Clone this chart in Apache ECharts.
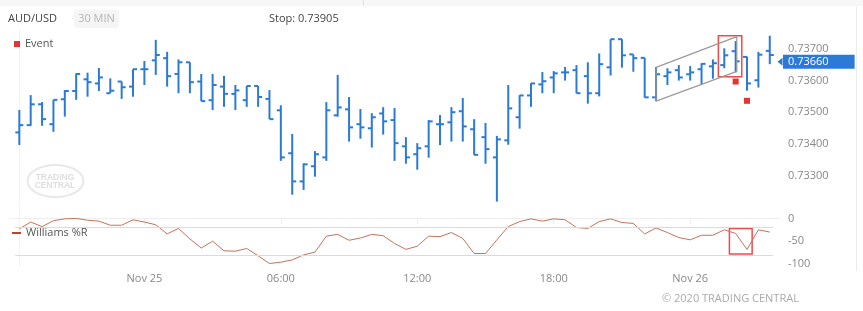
<!DOCTYPE html>
<html><head><meta charset="utf-8">
<script src="https://cdn.jsdelivr.net/npm/echarts@6/dist/echarts.min.js"></script>
<style>html,body{margin:0;padding:0;background:#fff}#c{width:863px;height:311px}</style>
</head><body><div id="c"></div>
<script>
// 30-minute bars, index 0 = Nov 24 18:30
const opens = [.73436,.73459,.73525,.73462,.73541,.73567,.73604,.73591,.73560,.73597,
 .73581,.73636,.73664,.73671,.73621,.73658,.73597,.73538,.73581,.73558,
 .73538,.73583,.73542,.73506,.73370,.73281,.73329,.73357,.73490,.73509,
 .73462,.73449,.73496,.73475,.73392,.73367,.73392,.73462,.73468,.73503,
 .73446,.73421,.73357,.73411,.73484,.73553,.73588,.73610,.73626,.73633,
 .73614,.73560,.73642,.73731,.73683,.73672,.73547,.73614,.73633,.73620,
 .73636,.73645,.73649,.73693,.73675,.73601,.73694];
const highs = [.73507,.73554,.73532,.73539,.73570,.73623,.73625,.73640,.73607,.73597,
 .73636,.73662,.73729,.73691,.73667,.73658,.73621,.73621,.73615,.73586,
 .73583,.73583,.73570,.73522,.73431,.73338,.73377,.73532,.73618,.73548,
 .73510,.73497,.73516,.73513,.73421,.73402,.73475,.73491,.73516,.73545,
 .73478,.73466,.73425,.73586,.73554,.73592,.73627,.73630,.73643,.73649,
 .73658,.73686,.73731,.73731,.73683,.73672,.73643,.73639,.73649,.73646,
 .73655,.73667,.73702,.73725,.73676,.73691,.73742];
const lows = [.73396,.73457,.73457,.73438,.73486,.73539,.73549,.73567,.73560,.73542,
 .73549,.73586,.73618,.73581,.73560,.73560,.73535,.73507,.73517,.73507,
 .73517,.73517,.73478,.73346,.73239,.73254,.73296,.73346,.73486,.73407,
 .73416,.73388,.73429,.73346,.73337,.73318,.73356,.73396,.73407,.73407,
 .73365,.73337,.73217,.73397,.73448,.73517,.73560,.73560,.73600,.73560,
 .73527,.73550,.73616,.73641,.73628,.73546,.73535,.73586,.73600,.73600,
 .73588,.73606,.73639,.73626,.73568,.73578,.73652];
const closes = [.73459,.73525,.73478,.73539,.73567,.73621,.73595,.73610,.73568,.73579,
 .73636,.73636,.73681,.73614,.73658,.73595,.73535,.73586,.73558,.73569,
 .73583,.73548,.73478,.73357,.73281,.73335,.73367,.73506,.73515,.73452,
 .73452,.73484,.73471,.73402,.73357,.73386,.73471,.73462,.73500,.73455,
 .73365,.73383,.73414,.73512,.73553,.73591,.73598,.73623,.73626,.73560,
 .73560,.73652,.73731,.73680,.73671,.73547,.73620,.73626,.73610,.73626,
 .73653,.73655,.73680,.73661,.73591,.73682,.73681];
const williamsR = [-23,-8,-18,-5,-1,0,-4,-6,-15,-15,-3,-8,-14,-34,-22,-45,-65,-50,-71,-72,
 -66,-82,-99,-96,-91,-80,-74,-39,-35,-48,-43,-35,-38,-55,-68,-61,-39,-40,-31,-44,
 -77,-77,-47,-18,-7,-1,-6,-1,-3,-20,-22,-7,-1,-9,-11,-34,-21,-31,-42,-47,
 -37,-37,-25,-33,-68,-25,-30];
const eventBars = [63, 64];
const eventPrices = [0.73597, 0.73536];
const tickIndex = [11, 23, 35, 47, 59];
const tickLabels = ['Nov 25', '06:00', '12:00', '18:00', 'Nov 26'];
const priceTicks = [0.733, 0.734, 0.735, 0.736, 0.737];
const wrTicks = [0, -50, -100];
const wrLevels = [-20, -80];
const channelBars = [56, 63.1, 63.1, 56, 56];
const channelPrices = [0.73642, 0.73739, 0.73629, 0.73535, 0.73642];
const priceBoxBars = [61.48, 63.54];
const priceBoxPrices = [0.73742, 0.73612];
const wrBoxBars = [62.45, 64.45];
const wrBoxValues = [-22, -78];
const lastPrice = 0.7366;
const stopText = 'Stop: 0.73905';

const FONT = '"Open Sans", sans-serif';
const BLUE = '#2b7bd6';
const xMin = -0.82, xMax = 66.9;

const ohlc = opens.map((o, i) => [i, o, highs[i], lows[i], closes[i]]);
const wr = williamsR.map((v, i) => [i, v]);
const events = eventBars.map((b, i) => [b, eventPrices[i]]);
const channel = channelBars.map((b, i) => [b, channelPrices[i]]);

const chart = echarts.init(document.getElementById('c'), null, {renderer: 'canvas'});
chart.setOption({
  animation: false,
  backgroundColor: '#fff',
  textStyle: {fontFamily: FONT},
  grid: [
    {left: 10, right: 83, top: 30, height: 175},
    {left: 10, right: 83, top: 207, height: 59}
  ],
  xAxis: [
    {gridIndex: 0, type: 'value', min: xMin, max: xMax, axisLine: {show: false}, axisTick: {show: false}, axisLabel: {show: false}, splitLine: {show: false}},
    {gridIndex: 1, type: 'value', min: xMin, max: xMax,
      axisLine: {show: true, lineStyle: {color: '#eeeeee'}},
      axisTick: {show: true, customValues: tickIndex, length: 6, lineStyle: {color: '#eeeeee'}},
      axisLabel: {show: true, customValues: tickIndex, margin: 7, color: '#888', fontSize: 11, fontFamily: FONT,
        formatter: v => tickLabels[tickIndex.indexOf(Math.round(v))] || ''},
      splitLine: {show: false}}
  ],
  yAxis: [
    {gridIndex: 0, type: 'value', position: 'right', min: 0.732063, max: 0.737601,
      axisLine: {show: true, lineStyle: {color: '#f2f2f2'}}, axisTick: {show: false},
      axisLabel: {customValues: priceTicks, margin: 8, color: '#888', fontSize: 11, fontFamily: FONT, formatter: v => v.toFixed(5)},
      splitLine: {show: false}},
    {gridIndex: 1, type: 'value', position: 'right', min: -104.4, max: 25,
      axisLine: {show: true, lineStyle: {color: '#f2f2f2'}}, axisTick: {show: false},
      axisLabel: {customValues: wrTicks, margin: 8, color: '#888', fontSize: 11, fontFamily: FONT},
      splitLine: {show: false}}
  ],
  legend: [
    {data: ['Event'], left: 14, top: 37, padding: 0, itemWidth: 6, itemHeight: 6, icon: 'rect', selectedMode: false,
      textStyle: {color: '#555', fontSize: 11, fontFamily: FONT, lineHeight: 14}},
    {data: [{name: 'Williams %R', icon: 'rect', itemStyle: {color: '#b5472d'}}], left: 12, top: 226, padding: 0, itemWidth: 9, itemHeight: 2, selectedMode: false,
      textStyle: {color: '#555', fontSize: 11, fontFamily: FONT, lineHeight: 14}}
  ],
  graphic: [
    {type: 'rect', shape: {x: 0, y: 0, width: 863, height: 6}, style: {fill: '#f7f7f7'}, silent: true},
    {type: 'line', shape: {x1: 363.5, y1: 0, x2: 363.5, y2: 6}, style: {stroke: '#e3e3e3', lineWidth: 1}, silent: true},
    {type: 'line', shape: {x1: 856.5, y1: 6, x2: 856.5, y2: 271}, style: {stroke: '#ebebeb', lineWidth: 1}, silent: true},
    {type: 'text', x: 8, y: 19, style: {text: 'AUD/USD', font: '11px ' + FONT, fill: '#444', verticalAlign: 'middle'}},
    {type: 'rect', shape: {x: 74, y: 10, width: 45, height: 18, r: 3}, style: {fill: '#f5f5f5'}},
    {type: 'text', x: 96.5, y: 19, style: {text: '30 MIN', font: '11px ' + FONT, fill: '#b5b5b5', align: 'center', verticalAlign: 'middle'}},
    {type: 'text', x: 269, y: 19, style: {text: stopText, font: '11px ' + FONT, fill: '#444', verticalAlign: 'middle'}},
    {type: 'text', x: 662, y: 299, style: {text: '© 2020 TRADING CENTRAL', font: '11px ' + FONT, fill: '#aaa', verticalAlign: 'middle'}},
    {type: 'ellipse', shape: {cx: 55.5, cy: 181, rx: 28, ry: 16}, style: {fill: 'none', stroke: '#e8e8e8', lineWidth: 2}, silent: true, z: -1},
    {type: 'text', x: 55, y: 182, style: {text: 'TRADING\nCENTRAL', font: 'bold 8.5px "Liberation Sans", sans-serif', fill: '#dedede', align: 'center', verticalAlign: 'middle', lineHeight: 8}, silent: true, z: -1}
  ],
  series: [
    {
      name: 'AUD/USD', type: 'custom', xAxisIndex: 0, yAxisIndex: 0, data: ohlc,
      encode: {x: 0, y: [1, 2, 3, 4]}, silent: true,
      renderItem: function (params, api) {
        const x = api.value(0);
        const o = api.coord([x, api.value(1)]);
        const h = api.coord([x, api.value(2)]);
        const l = api.coord([x, api.value(3)]);
        const c = api.coord([x, api.value(4)]);
        const st = {stroke: BLUE, lineWidth: 2};
        return {type: 'group', children: [
          {type: 'line', shape: {x1: h[0], y1: h[1], x2: l[0], y2: l[1]}, style: st},
          {type: 'line', shape: {x1: o[0] - 4, y1: o[1], x2: o[0], y2: o[1]}, style: st},
          {type: 'line', shape: {x1: c[0], y1: c[1], x2: c[0] + 4, y2: c[1]}, style: st}
        ]};
      },
      markArea: {silent: true, itemStyle: {color: 'rgba(0,0,0,0)', borderColor: '#f24a4a', borderWidth: 1.5},
        data: [[{xAxis: priceBoxBars[0], yAxis: priceBoxPrices[0]}, {xAxis: priceBoxBars[1], yAxis: priceBoxPrices[1]}]]}
    },
    {
      name: 'channel', type: 'line', xAxisIndex: 0, yAxisIndex: 0, data: channel, symbol: 'none', silent: true, clip: false,
      lineStyle: {color: '#9a9a9a', width: 1.2},
      markLine: {silent: true, symbol: ['none', 'triangle'], symbolSize: [8, 5], symbolRotate: 90,
        lineStyle: {color: BLUE, width: 0, type: 'solid'},
        label: {show: true, position: 'end', distance: 3, formatter: lastPrice.toFixed(5), backgroundColor: BLUE, color: '#fff',
          fontSize: 11, fontFamily: FONT, padding: [1, 26, 1, 5], lineHeight: 12},
        data: [[{coord: [xMin, lastPrice]}, {coord: [xMax, lastPrice]}]]}
    },
    {
      name: 'Event', type: 'scatter', xAxisIndex: 0, yAxisIndex: 0, data: events, symbol: 'rect', symbolSize: 6,
      itemStyle: {color: '#e00000'}, silent: true, z: 5
    },
    {
      name: 'Williams %R', type: 'line', xAxisIndex: 1, yAxisIndex: 1, data: wr, symbol: 'none', silent: true,
      lineStyle: {color: '#c4735c', width: 1}, itemStyle: {color: '#c4735c'},
      markLine: {silent: true, symbol: 'none', label: {show: false}, lineStyle: {color: '#cfe5c8', width: 1, type: 'solid'},
        data: wrLevels.map(v => [{coord: [-0.38, v]}, {coord: [66.28, v]}])},
      markArea: {silent: true, itemStyle: {color: 'rgba(0,0,0,0)', borderColor: '#f24a4a', borderWidth: 1.5},
        data: [[{xAxis: wrBoxBars[0], yAxis: wrBoxValues[0]}, {xAxis: wrBoxBars[1], yAxis: wrBoxValues[1]}]]}
    }
  ]
});
</script></body></html>
